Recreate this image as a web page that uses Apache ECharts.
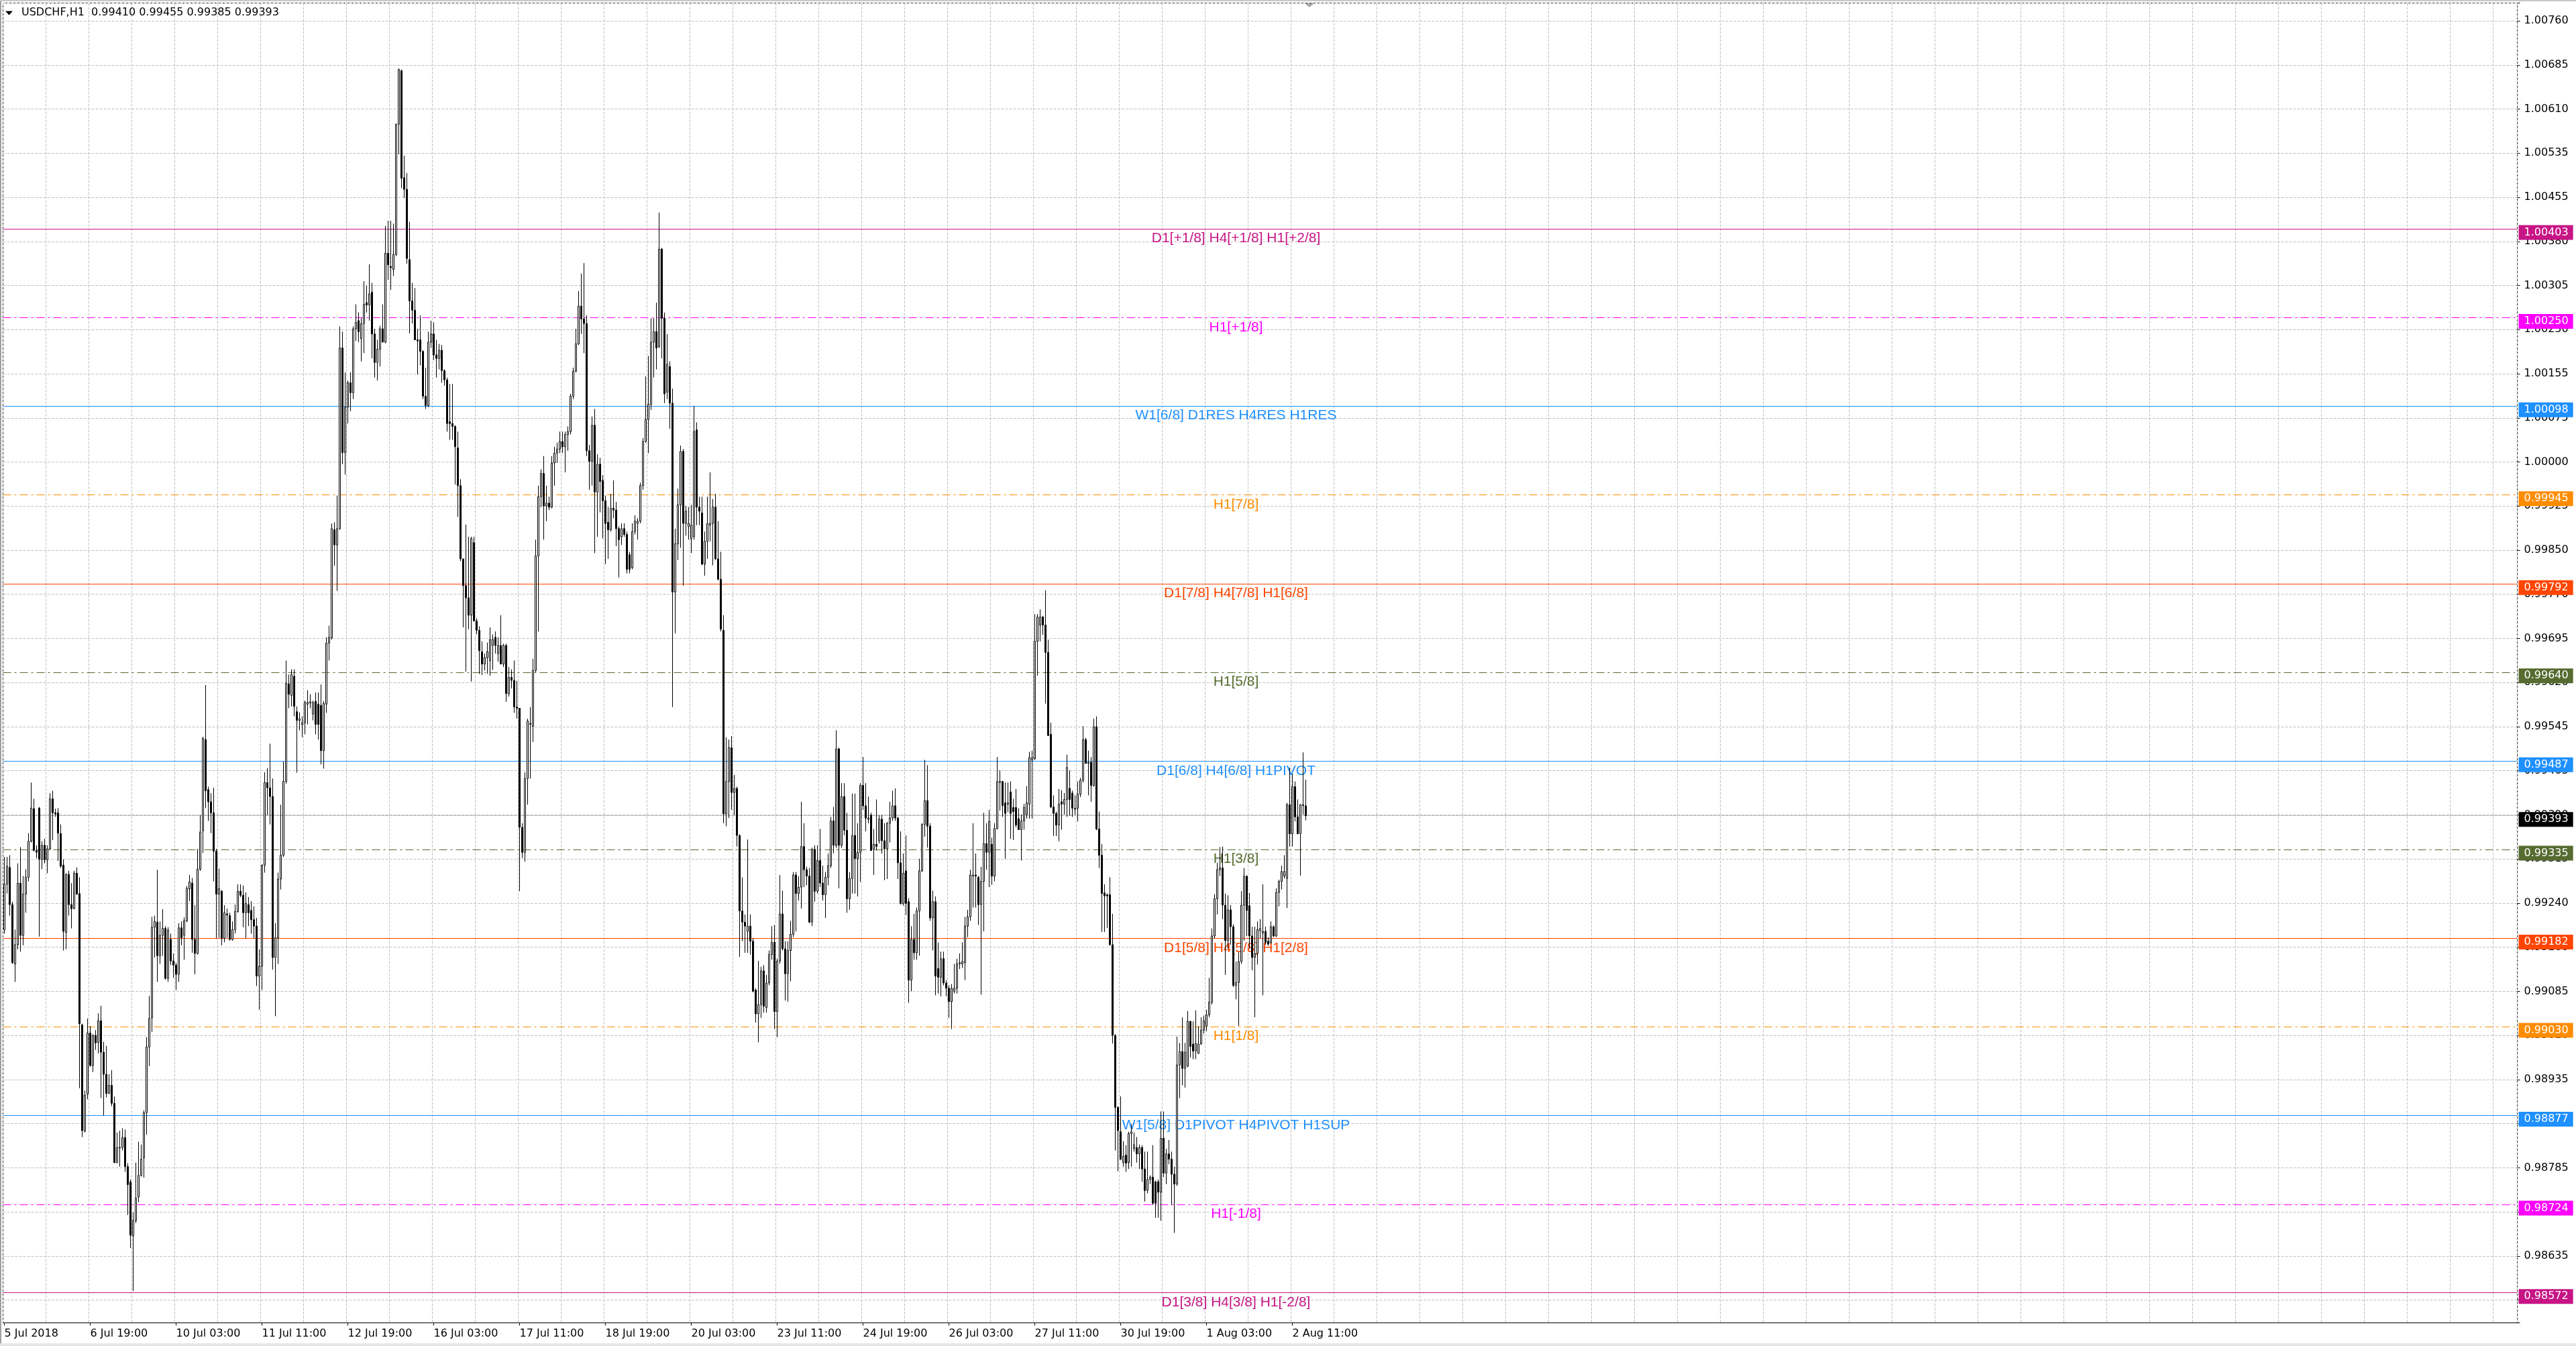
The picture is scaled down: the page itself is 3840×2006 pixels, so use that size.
<!DOCTYPE html>
<html><head><meta charset="utf-8">
<script src="https://cdn.jsdelivr.net/npm/echarts@6/dist/echarts.min.js"></script>
<style>html,body{margin:0;padding:0;background:#fff}#c{width:3840px;height:2006px}</style>
</head><body><div id="c"></div><script>
// ---- DATA (USDCHF H1, bars as [open, high, low, close]) ----
const week1 = [
[0.99197,0.99322,0.99190,0.99275],[0.99275,0.99322,0.99259,0.99306],[0.99304,0.99325,0.99221,0.99240],[0.99240,0.99245,0.99138,0.99140],
[0.99138,0.99197,0.99107,0.99171],[0.99171,0.99311,0.99163,0.99277],[0.99277,0.99339,0.99159,0.99187],[0.99187,0.99289,0.99170,0.99258],
[0.99258,0.99301,0.99226,0.99287],[0.99287,0.99363,0.99280,0.99349],[0.99349,0.99450,0.99347,0.99406],[0.99405,0.99422,0.99332,0.99333],
[0.99333,0.99342,0.99320,0.99330],[0.99406,0.99408,0.99185,0.99318],[0.99318,0.99349,0.99301,0.99342],[0.99342,0.99353,0.99311,0.99317],
[0.99317,0.99342,0.99294,0.99336],[0.99336,0.99432,0.99334,0.99422],[0.99422,0.99436,0.99351,0.99398],[0.99398,0.99405,0.99391,0.99396],
[0.99398,0.99406,0.99315,0.99363],[0.99362,0.99378,0.99303,0.99306],[0.99308,0.99318,0.99161,0.99194],[0.99192,0.99294,0.99163,0.99292],
[0.99292,0.99298,0.99221,0.99240],[0.99240,0.99277,0.99199,0.99233],[0.99233,0.99298,0.99232,0.99294],[0.99294,0.99304,0.99257,0.99258],
[0.99259,0.99287,0.98924,0.99035],[0.99033,0.99035,0.98840,0.98851],[0.98850,0.98920,0.98848,0.98912],[0.98914,0.99044,0.98905,0.99019],
[0.99019,0.99031,0.98961,0.98963],[0.98963,0.99017,0.98952,0.99015],[0.99015,0.99024,0.98990,0.99002],[0.99003,0.99053,0.98984,0.99040],
[0.99040,0.99066,0.98907,0.98986]
];
const week2 = [
[0.98986,0.99004,0.98877,0.98948],[0.98948,0.98997,0.98908,0.98915],[0.98915,0.98948,0.98914,0.98929],[0.98929,0.98955,0.98893,0.98898],
[0.98898,0.98910,0.98795,0.98796],[0.98796,0.98848,0.98795,0.98822],[0.98822,0.98851,0.98789,0.98821],[0.98822,0.98855,0.98817,0.98839],
[0.98839,0.98853,0.98780,0.98789],[0.98789,0.98795,0.98706,0.98758],[0.98763,0.98767,0.98649,0.98671],[0.98670,0.98710,0.98575,0.98696],
[0.98696,0.98796,0.98692,0.98735],[0.98737,0.98832,0.98728,0.98774],[0.98774,0.98827,0.98772,0.98802],[0.98804,0.98886,0.98770,0.98882],
[0.98882,0.99012,0.98844,0.98995],[0.98995,0.99083,0.98962,0.99044],[0.99045,0.99219,0.99021,0.99201],[0.99201,0.99221,0.99149,0.99211],
[0.99210,0.99300,0.99107,0.99152],[0.99152,0.99211,0.99138,0.99187],[0.99187,0.99232,0.99152,0.99199],[0.99199,0.99203,0.99111,0.99113],
[0.99113,0.99201,0.99107,0.99196],[0.99180,0.99190,0.99136,0.99143],[0.99143,0.99156,0.99114,0.99136],[0.99136,0.99140,0.99093,0.99120],
[0.99120,0.99208,0.99107,0.99200],[0.99200,0.99211,0.99170,0.99183],[0.99187,0.99218,0.99145,0.99212],[0.99212,0.99272,0.99210,0.99268],
[0.99267,0.99291,0.99246,0.99279],[0.99277,0.99286,0.99157,0.99180],[0.99180,0.99239,0.99120,0.99156],[0.99156,0.99336,0.99154,0.99301],
[0.99301,0.99394,0.99298,0.99365],[0.99367,0.99529,0.99329,0.99526],[0.99524,0.99618,0.99406,0.99436],[0.99438,0.99443,0.99384,0.99417],
[0.99417,0.99432,0.99363,0.99398],[0.99398,0.99441,0.99280,0.99332],[0.99332,0.99336,0.99182,0.99258],[0.99258,0.99302,0.99183,0.99268],
[0.99263,0.99265,0.99170,0.99182],[0.99182,0.99239,0.99175,0.99226],[0.99224,0.99233,0.99183,0.99222],[0.99221,0.99226,0.99178,0.99180],
[0.99180,0.99211,0.99178,0.99197],[0.99197,0.99240,0.99190,0.99228],[0.99228,0.99275,0.99226,0.99263],[0.99263,0.99275,0.99253,0.99256],
[0.99256,0.99273,0.99201,0.99226],[0.99226,0.99261,0.99182,0.99242],[0.99240,0.99253,0.99203,0.99226],[0.99230,0.99246,0.99190,0.99214],
[0.99214,0.99237,0.99182,0.99203],[0.99203,0.99217,0.99100,0.99117],[0.99117,0.99163,0.99059,0.99134],[0.99134,0.99309,0.99093,0.99308],
[0.99308,0.99468,0.99295,0.99450],[0.99450,0.99475,0.99394,0.99441],[0.99441,0.99517,0.99378,0.99426],[0.99426,0.99457,0.99128,0.99149],
[0.99149,0.99208,0.99048,0.99183],[0.99183,0.99295,0.99138,0.99284],[0.99284,0.99412,0.99266,0.99325],[0.99325,0.99486,0.99322,0.99452],
[0.99452,0.99660,0.99448,0.99621],[0.99620,0.99636,0.99578,0.99602],[0.99600,0.99645,0.99581,0.99636],[0.99633,0.99645,0.99564,0.99581],
[0.99572,0.99581,0.99467,0.99557],[0.99557,0.99571,0.99540,0.99560],[0.99550,0.99564,0.99528,0.99553],[0.99553,0.99591,0.99533,0.99588],
[0.99585,0.99609,0.99550,0.99588],[0.99587,0.99602,0.99578,0.99589],[0.99568,0.99591,0.99557,0.99588],[0.99590,0.99605,0.99533,0.99550],
[0.99585,0.99605,0.99524,0.99550],[0.99583,0.99619,0.99481,0.99505],[0.99505,0.99590,0.99474,0.99586],[0.99585,0.99700,0.99570,0.99690],
[0.99690,0.99720,0.99660,0.99700],[0.99699,0.99896,0.99696,0.99887],[0.99885,0.99898,0.99823,0.99859],[0.99859,0.99944,0.99780,0.99887],
[0.99887,1.00235,0.99885,1.00198],[1.00198,1.00226,0.99998,1.00018],[1.00018,1.00156,0.99980,1.00096],[1.00096,1.00142,1.00068,1.00138],
[1.00138,1.00156,1.00089,1.00121],[1.00121,1.00235,1.00110,1.00231],[1.00231,1.00273,1.00210,1.00242],[1.00245,1.00259,1.00208,1.00226],
[1.00214,1.00249,1.00175,1.00240],[1.00240,1.00313,1.00189,1.00273],[1.00276,1.00305,1.00259,1.00272],[1.00272,1.00342,1.00245,1.00291],
[1.00294,1.00310,1.00180,1.00222],[1.00222,1.00231,1.00147,1.00173],[1.00173,1.00212,1.00142,1.00196],[1.00196,1.00236,1.00166,1.00231],
[1.00231,1.00273,1.00208,1.00208],[1.00208,1.00408,1.00206,1.00361],[1.00361,1.00417,1.00315,1.00341],[1.00338,1.00417,1.00298,1.00336],
[1.00333,1.00412,1.00322,1.00359],[1.00359,1.00584,1.00356,1.00583],[1.00583,1.00679,1.00531,1.00677],[1.00675,1.00677,1.00473,1.00490],
[1.00491,1.00529,1.00456,1.00471],[1.00471,1.00499,1.00343,1.00352],[1.00350,1.00415,1.00223,1.00279],[1.00279,1.00310,1.00240,1.00263],
[1.00263,1.00301,1.00212,1.00212],[1.00212,1.00231,1.00152,1.00210],[1.00212,1.00254,1.00168,1.00192],[1.00192,1.00194,1.00110,1.00115]
];
const week3 = [
[1.00115,1.00164,1.00093,1.00099],[1.00099,1.00226,1.00096,1.00208],[1.00208,1.00245,1.00198,1.00222],[1.00222,1.00242,1.00177,1.00186],
[1.00186,1.00212,1.00147,1.00180],[1.00180,1.00205,1.00161,1.00194],[1.00194,1.00203,1.00138,1.00159],[1.00159,1.00161,1.00133,1.00143],
[1.00143,1.00147,1.00054,1.00068],[1.00071,1.00136,1.00040,1.00068],[1.00068,1.00136,1.00040,1.00063],[1.00063,1.00065,0.99963,1.00028],
[1.00026,1.00054,0.99907,0.99961],[0.99961,0.99972,0.99831,0.99835],[0.99835,0.99835,0.99717,0.99789],[0.99789,0.99894,0.99641,0.99768],
[0.99768,0.99873,0.99714,0.99738],[0.99738,0.99873,0.99624,0.99870],[0.99863,0.99873,0.99728,0.99728],[0.99728,0.99733,0.99705,0.99712],
[0.99712,0.99719,0.99637,0.99677],[0.99675,0.99693,0.99635,0.99654],[0.99654,0.99672,0.99643,0.99665],[0.99665,0.99691,0.99637,0.99675],
[0.99660,0.99717,0.99634,0.99696],[0.99686,0.99705,0.99644,0.99696],[0.99700,0.99710,0.99672,0.99686],[0.99672,0.99700,0.99658,0.99686],
[0.99686,0.99738,0.99654,0.99654],[0.99654,0.99689,0.99649,0.99686],[0.99686,0.99689,0.99589,0.99603],[0.99603,0.99649,0.99598,0.99631],
[0.99631,0.99645,0.99612,0.99626],[0.99626,0.99660,0.99570,0.99580],[0.99580,0.99625,0.99560,0.99578],[0.99578,0.99578,0.99263,0.99373],
[0.99373,0.99380,0.99320,0.99330],[0.99330,0.99468,0.99314,0.99457],[0.99457,0.99560,0.99412,0.99556],[0.99550,0.99580,0.99457,0.99552],
[0.99547,0.99663,0.99520,0.99643],[0.99643,0.99868,0.99640,0.99840],[0.99840,0.99961,0.99710,0.99942],[0.99942,0.99989,0.99924,0.99982],
[0.99982,1.00012,0.99868,0.99926],[0.99926,0.99961,0.99900,0.99931],[0.99931,0.99942,0.99919,0.99924],[0.99924,1.00012,0.99922,1.00000],
[1.00000,1.00028,0.99961,1.00017],[1.00017,1.00035,1.00000,1.00024],[1.00024,1.00054,1.00017,1.00037],[1.00037,1.00054,1.00017,1.00028],
[1.00028,1.00054,0.99984,1.00049],[1.00049,1.00063,1.00021,1.00054],[1.00054,1.00119,1.00049,1.00115],[1.00115,1.00164,1.00110,1.00158],
[1.00158,1.00231,1.00156,1.00205],[1.00205,1.00296,1.00203,1.00270],[1.00270,1.00326,1.00222,1.00248],[1.00248,1.00344,1.00189,1.00240],
[1.00240,1.00254,1.00012,1.00021],[1.00021,1.00031,0.99954,1.00003],[1.00003,1.00080,0.99961,1.00065],[1.00065,1.00093,0.99845,0.99950],
[0.99950,1.00015,0.99873,0.99998],[0.99998,1.00009,0.99915,0.99968],[0.99970,0.99979,0.99870,0.99935],[0.99935,0.99944,0.99826,0.99896],
[0.99898,0.99924,0.99835,0.99885],[0.99885,0.99947,0.99882,0.99922],[0.99922,0.99970,0.99905,0.99919],[0.99919,0.99933,0.99857,0.99887],
[0.99887,0.99891,0.99803,0.99868],[0.99873,0.99896,0.99859,0.99887],[0.99887,0.99896,0.99873,0.99877],[0.99877,0.99882,0.99810,0.99817],
[0.99842,0.99847,0.99810,0.99817],[0.99820,0.99896,0.99817,0.99882],[0.99882,0.99910,0.99877,0.99900],[0.99896,0.99905,0.99868,0.99900],
[0.99900,0.99966,0.99896,0.99961],[0.99961,1.00043,0.99954,1.00037],[1.00037,1.00149,1.00035,1.00075],[1.00075,1.00184,1.00017,1.00101],
[1.00101,1.00249,1.00091,1.00208],[1.00208,1.00249,1.00147,1.00226],[1.00226,1.00276,1.00161,1.00198],[1.00200,1.00431,1.00198,1.00368],
[1.00368,1.00370,1.00180,1.00249],[1.00249,1.00259,1.00103,1.00119],[1.00122,1.00222,1.00110,1.00170],[1.00166,1.00175,1.00059,1.00103],
[1.00103,1.00128,0.99580,0.99778],[0.99778,0.99887,0.99707,0.99861],[0.99861,0.99956,0.99833,0.99928],[0.99928,1.00030,0.99854,1.00020],
[1.00020,1.00024,0.99789,0.99896],[0.99896,0.99926,0.99875,0.99917],[0.99891,0.99924,0.99868,0.99896],[0.99870,0.99928,0.99845,0.99893],
[0.99873,1.00098,0.99868,1.00054],[1.00057,1.00070,0.99893,0.99924],[0.99924,0.99942,0.99893,0.99917],[0.99914,0.99942,0.99824,0.99826],
[0.99826,0.99882,0.99806,0.99865],[0.99865,0.99942,0.99835,0.99896],[0.99893,0.99984,0.99865,0.99896],[0.99896,0.99938,0.99824,0.99924],
[0.99924,0.99947,0.99833,0.99835],[0.99835,0.99900,0.99798,0.99800],[0.99800,0.99847,0.99710,0.99714],[0.99712,0.99738,0.99380,0.99396],
[0.99396,0.99528,0.99375,0.99452],[0.99452,0.99524,0.99389,0.99510],[0.99510,0.99530,0.99403,0.99433],[0.99433,0.99463,0.99394,0.99440],
[0.99440,0.99443,0.99340,0.99359],[0.99359,0.99361,0.99150,0.99229],[0.99229,0.99287,0.99177,0.99210],[0.99210,0.99223,0.99157,0.99203]
];
const week4 = [
[0.99194,0.99352,0.99157,0.99203],[0.99203,0.99223,0.99154,0.99177],[0.99177,0.99182,0.99089,0.99091],[0.99093,0.99096,0.99037,0.99052],
[0.99052,0.99143,0.99003,0.99068],[0.99068,0.99133,0.99045,0.99126],[0.99126,0.99136,0.99054,0.99065],[0.99063,0.99119,0.99054,0.99105],
[0.99105,0.99161,0.99101,0.99154],[0.99154,0.99203,0.99145,0.99175],[0.99175,0.99205,0.99026,0.99056],[0.99056,0.99147,0.99012,0.99143],
[0.99143,0.99291,0.99138,0.99224],[0.99224,0.99264,0.99161,0.99164],[0.99164,0.99177,0.99075,0.99121],[0.99121,0.99177,0.99073,0.99161],
[0.99161,0.99212,0.99108,0.99189],[0.99189,0.99296,0.99184,0.99291],[0.99291,0.99296,0.99194,0.99259],[0.99259,0.99289,0.99247,0.99270],
[0.99270,0.99417,0.99233,0.99340],[0.99340,0.99380,0.99270,0.99300],[0.99300,0.99305,0.99273,0.99289],[0.99289,0.99303,0.99208,0.99210],
[0.99210,0.99338,0.99203,0.99335],[0.99335,0.99342,0.99245,0.99263],[0.99263,0.99342,0.99259,0.99316],[0.99316,0.99370,0.99270,0.99277],
[0.99277,0.99307,0.99247,0.99257],[0.99257,0.99296,0.99217,0.99287],[0.99287,0.99328,0.99273,0.99307],[0.99307,0.99391,0.99303,0.99384],
[0.99384,0.99408,0.99328,0.99342],[0.99342,0.99540,0.99338,0.99508],[0.99508,0.99510,0.99268,0.99342],[0.99342,0.99449,0.99338,0.99426],
[0.99426,0.99449,0.99359,0.99368],[0.99368,0.99398,0.99226,0.99250],[0.99250,0.99296,0.99231,0.99285],[0.99285,0.99431,0.99259,0.99359],
[0.99359,0.99431,0.99259,0.99319],[0.99319,0.99380,0.99254,0.99330],[0.99330,0.99449,0.99279,0.99445],[0.99445,0.99494,0.99403,0.99410],
[0.99410,0.99449,0.99366,0.99389],[0.99387,0.99426,0.99380,0.99389],[0.99394,0.99398,0.99333,0.99333],[0.99335,0.99370,0.99291,0.99344],
[0.99344,0.99421,0.99333,0.99340],[0.99350,0.99394,0.99345,0.99387],[0.99387,0.99394,0.99328,0.99350],[0.99350,0.99380,0.99282,0.99336],
[0.99336,0.99382,0.99284,0.99380],[0.99380,0.99417,0.99347,0.99389],[0.99389,0.99436,0.99384,0.99410],[0.99410,0.99440,0.99384,0.99389],
[0.99389,0.99391,0.99284,0.99312],[0.99312,0.99366,0.99240,0.99242],[0.99242,0.99328,0.99238,0.99294],[0.99298,0.99359,0.99222,0.99242],
[0.99245,0.99251,0.99071,0.99110],[0.99110,0.99203,0.99091,0.99180],[0.99180,0.99224,0.99145,0.99157],[0.99157,0.99235,0.99145,0.99229],
[0.99229,0.99319,0.99152,0.99298],[0.99298,0.99380,0.99296,0.99378],[0.99378,0.99489,0.99357,0.99419],[0.99419,0.99480,0.99338,0.99375],
[0.99375,0.99380,0.99212,0.99217],[0.99217,0.99264,0.99161,0.99245],[0.99245,0.99254,0.99084,0.99117],[0.99130,0.99175,0.99087,0.99115],
[0.99115,0.99159,0.99082,0.99147],[0.99147,0.99159,0.99101,0.99105],[0.99105,0.99110,0.99082,0.99096],[0.99096,0.99101,0.99045,0.99073],
[0.99073,0.99103,0.99026,0.99096],[0.99091,0.99138,0.99087,0.99096],[0.99096,0.99147,0.99087,0.99138],[0.99138,0.99156,0.99129,0.99140],
[0.99138,0.99175,0.99131,0.99142],[0.99140,0.99219,0.99110,0.99203],[0.99203,0.99231,0.99184,0.99219],[0.99219,0.99300,0.99212,0.99291],
[0.99289,0.99380,0.99235,0.99291],[0.99291,0.99328,0.99235,0.99289],[0.99287,0.99289,0.99205,0.99240],[0.99240,0.99305,0.99085,0.99280],
[0.99280,0.99398,0.99194,0.99345],[0.99345,0.99380,0.99300,0.99330],[0.99330,0.99403,0.99270,0.99383],[0.99344,0.99355,0.99274,0.99289],
[0.99289,0.99380,0.99280,0.99371],[0.99371,0.99494,0.99369,0.99452],[0.99450,0.99471,0.99402,0.99452],[0.99452,0.99452,0.99391,0.99410],
[0.99415,0.99450,0.99319,0.99397],[0.99413,0.99450,0.99399,0.99415],[0.99434,0.99452,0.99353,0.99397],[0.99407,0.99422,0.99351,0.99400],
[0.99407,0.99439,0.99373,0.99377],[0.99388,0.99406,0.99369,0.99369],[0.99369,0.99395,0.99316,0.99384],[0.99384,0.99413,0.99369,0.99407],
[0.99395,0.99444,0.99388,0.99415],[0.99413,0.99503,0.99388,0.99493],[0.99489,0.99505,0.99388,0.99493],[0.99491,0.99740,0.99489,0.99693],
[0.99693,0.99740,0.99634,0.99735],[0.99721,0.99748,0.99693,0.99735],[0.99735,0.99737,0.99704,0.99721],[0.99721,0.99781,0.99586,0.99674],
[0.99674,0.99696,0.99530,0.99531],[0.99533,0.99553,0.99406,0.99408],[0.99408,0.99428,0.99358,0.99397],[0.99397,0.99400,0.99358,0.99377],
[0.99377,0.99439,0.99349,0.99413],[0.99417,0.99437,0.99369,0.99413],[0.99413,0.99432,0.99395,0.99421],[0.99421,0.99498,0.99391,0.99476]
];
const week5 = [
[0.99440,0.99471,0.99393,0.99421],[0.99432,0.99436,0.99391,0.99406],[0.99404,0.99428,0.99395,0.99406],[0.99406,0.99452,0.99383,0.99430],
[0.99430,0.99458,0.99425,0.99454],[0.99454,0.99547,0.99450,0.99524],[0.99524,0.99527,0.99483,0.99483],[0.99483,0.99505,0.99428,0.99485],
[0.99485,0.99494,0.99417,0.99445],[0.99445,0.99560,0.99443,0.99546],[0.99546,0.99564,0.99368,0.99370],[0.99370,0.99400,0.99303,0.99325],
[0.99325,0.99344,0.99193,0.99259],[0.99260,0.99275,0.99193,0.99255],[0.99257,0.99259,0.99200,0.99255],[0.99257,0.99287,0.99169,0.99171],
[0.99171,0.99224,0.99001,0.99015],[0.99015,0.99017,0.98817,0.98891],[0.98891,0.98893,0.98781,0.98851],[0.98849,0.98910,0.98800,0.98802],
[0.98796,0.98833,0.98789,0.98807],[0.98809,0.98826,0.98780,0.98795],[0.98796,0.98849,0.98785,0.98846],[0.98846,0.98862,0.98789,0.98849],
[0.98820,0.98848,0.98815,0.98827],[0.98822,0.98840,0.98796,0.98811],[0.98811,0.98827,0.98785,0.98822],[0.98822,0.98826,0.98763,0.98785],
[0.98785,0.98815,0.98729,0.98748],[0.98748,0.98815,0.98743,0.98767],[0.98767,0.98774,0.98759,0.98771],[0.98771,0.98826,0.98723,0.98726],
[0.98763,0.98765,0.98701,0.98726],[0.98763,0.98767,0.98701,0.98745],[0.98745,0.98884,0.98696,0.98838],[0.98838,0.98884,0.98771,0.98778],
[0.98778,0.98820,0.98759,0.98811],[0.98811,0.98835,0.98793,0.98802],[0.98802,0.98815,0.98723,0.98776],[0.98776,0.98789,0.98675,0.98759],
[0.98759,0.99013,0.98756,0.98964],[0.98964,0.99002,0.98907,0.98987],[0.98987,0.99046,0.98929,0.98958],[0.98958,0.99002,0.98925,0.98986],
[0.98962,0.99057,0.98960,0.99039],[0.99039,0.99040,0.98977,0.98996],[0.99000,0.99039,0.98974,0.98988],[0.98988,0.99058,0.98974,0.99001],
[0.98984,0.99031,0.98983,0.99000],[0.99000,0.99046,0.98999,0.99024],[0.99024,0.99049,0.99018,0.99040],[0.99031,0.99059,0.99022,0.99050],
[0.99050,0.99114,0.99046,0.99072],[0.99072,0.99199,0.99068,0.99186],[0.99186,0.99258,0.99182,0.99250],[0.99250,0.99312,0.99223,0.99300],
[0.99300,0.99339,0.99289,0.99303],[0.99303,0.99340,0.99215,0.99239],[0.99239,0.99259,0.99119,0.99178],[0.99178,0.99256,0.99164,0.99231],
[0.99231,0.99239,0.99171,0.99202],[0.99202,0.99206,0.99098,0.99101],[0.99101,0.99142,0.99077,0.99106],[0.99106,0.99158,0.99031,0.99142],
[0.99142,0.99263,0.99138,0.99239],[0.99239,0.99303,0.99178,0.99289],[0.99289,0.99290,0.99186,0.99230],[0.99238,0.99260,0.99164,0.99186],
[0.99186,0.99202,0.99127,0.99149],[0.99149,0.99202,0.99046,0.99156],[0.99156,0.99211,0.99137,0.99197],[0.99195,0.99215,0.99182,0.99199],
[0.99191,0.99275,0.99084,0.99194],[0.99194,0.99202,0.99171,0.99175],[0.99177,0.99184,0.99169,0.99172],[0.99175,0.99211,0.99172,0.99202],
[0.99202,0.99204,0.99184,0.99186],[0.99186,0.99268,0.99184,0.99261],[0.99261,0.99283,0.99237,0.99280],[0.99280,0.99307,0.99266,0.99297],
[0.99289,0.99325,0.99285,0.99297],[0.99285,0.99415,0.99234,0.99412],[0.99412,0.99476,0.99340,0.99362],[0.99362,0.99465,0.99340,0.99443],
[0.99443,0.99452,0.99383,0.99391],[0.99391,0.99421,0.99361,0.99362],[0.99362,0.99413,0.99290,0.99412],[0.99410,0.99502,0.99395,0.99412],
[0.99410,0.99455,0.99385,0.99393]
];

const xLabels = ['5 Jul 2018','6 Jul 19:00','10 Jul 03:00','11 Jul 11:00','12 Jul 19:00','16 Jul 03:00','17 Jul 11:00','18 Jul 19:00',
  '20 Jul 03:00','23 Jul 11:00','24 Jul 19:00','26 Jul 03:00','27 Jul 11:00','30 Jul 19:00','1 Aug 03:00','2 Aug 11:00'];
const xLabelStep = 32;   // bars between time labels
const xGridStep = 16;    // bars between vertical grid lines
const slotCount = 937;   // hourly slots that fit across the chart window

const yTickLabels = ['1.00760','1.00685','1.00610','1.00535','1.00455','1.00380','1.00305','1.00230','1.00155','1.00075',
  '1.00000','0.99925','0.99850','0.99770','0.99695','0.99620','0.99545','0.99465','0.99390','0.99315',
  '0.99240','0.99160','0.99085','0.99010','0.98935','0.98860','0.98785','0.98710','0.98635',''];

const levelPrices = [1.00403,1.00250,1.00098,0.99945,0.99792,0.99640,0.99487,0.99335,0.99182,0.99030,0.98877,0.98724,0.98572];
const levelNames = ['D1[+1/8] H4[+1/8] H1[+2/8]','H1[+1/8]','W1[6/8] D1RES H4RES H1RES','H1[7/8]','D1[7/8] H4[7/8] H1[6/8]',
  'H1[5/8]','D1[6/8] H4[6/8] H1PIVOT','H1[3/8]','D1[5/8] H4[5/8] H1[2/8]','H1[1/8]','W1[5/8] D1PIVOT H4PIVOT H1SUP','H1[-1/8]',
  'D1[3/8] H4[3/8] H1[-2/8]'];
const levelColors = ['#C71585','#FF00FF','#1E90FF','#FF8C00','#FF4500','#556B2F','#1E90FF','#556B2F','#FF4500','#FF8C00','#1E90FF','#FF00FF','#C71585'];
const levelDashDot = [false,true,false,true,false,true,false,true,false,true,false,true,false];
const bidPrice = 0.99393;
const headerText = 'USDCHF,H1  0.99410 0.99455 0.99385 0.99393';

// ---- CHART ----
const bars = week1.concat(week2, week3, week4, week5);
const candleData = bars.map(b => [b[0], b[3], b[2], b[1]]);
const slots = Array.from({length: slotCount}, (_, i) => String(i));
const midLabelSlot = 918; // helper segment end so that level names centre where MT4 puts them

const axisFont = 'DejaVu Sans';
// price box on the right axis: an empty spacer line above the box drops it slightly below the level, as MT4 does
const boxLabel = (text, bg) => ({
  show: true, position: 'end', distance: 2, opacity: 1,
  formatter: '{g| }\n{b|' + text + '}',
  rich: {
    g: {fontSize: 1, lineHeight: 11},
    b: {color: '#fff', backgroundColor: bg, padding: [3, 7, 3, 8], fontFamily: axisFont, fontSize: 16, lineHeight: 16}
  }
});
const markData = [];
levelPrices.forEach((p, i) => {
  markData.push({
    yAxis: p,
    lineStyle: {color: levelColors[i], width: 1, type: levelDashDot[i] ? [12, 5, 3, 5] : 'solid', opacity: 1},
    label: boxLabel(p.toFixed(5), levelColors[i])
  });
  markData.push([
    {coord: ['0', p], lineStyle: {color: 'rgba(0,0,0,0)', width: 1, opacity: 1, type: 'solid'},
     label: {show: true, position: 'insideMiddleBottom', distance: 4, formatter: levelNames[i], color: levelColors[i],
       fontFamily: 'Liberation Sans', fontSize: 21, opacity: 1, padding: 0, backgroundColor: 'transparent'}},
    {coord: [String(midLabelSlot), p]}
  ]);
});
markData.push({
  yAxis: bidPrice,
  lineStyle: {color: '#c0c0c0', width: 1, type: 'solid'},
  label: boxLabel(bidPrice.toFixed(5), '#000')
});

const chart = echarts.init(document.getElementById('c'), null, {renderer: 'canvas'});
const labelShown = (i) => i % xLabelStep === 0 && i / xLabelStep < xLabels.length;
chart.setOption({
  animation: false,
  backgroundColor: '#fff',
  title: {text: headerText, left: 32, top: 11, padding: 0,
    textStyle: {fontFamily: axisFont, fontSize: 16, fontWeight: 'normal', color: '#000'}},
  graphic: [
    {type: 'polygon', shape: {points: [[8, 16.5], [19, 16.5], [13.5, 22.5]]}, style: {fill: '#000'}, z: 10},
    {type: 'polygon', shape: {points: [[1945, 5], [1959, 5], [1952, 11]]}, style: {fill: '#a8a8a8'}, z: 10},
    {type: 'rect', shape: {x: 0, y: 0, width: 2, height: 2006}, style: {fill: '#a0a0a0'}, z: 10},
    {type: 'rect', shape: {x: 0, y: 0, width: 3840, height: 2}, style: {fill: '#c8c8c8'}, z: 10},
    {type: 'rect', shape: {x: 0, y: 2002, width: 3840, height: 4}, style: {fill: '#e6e6e6'}, z: 10}
  ],
  grid: {left: 4.5, top: 4.5, width: 3748, height: 1967, show: true, borderColor: '#000', borderWidth: 1, backgroundColor: '#fff'},
  xAxis: {
    type: 'category', data: slots, boundaryGap: true,
    axisLine: {show: true, onZero: false, lineStyle: {color: '#000', width: 1}},
    axisTick: {show: true, alignWithLabel: true, interval: labelShown, length: 4, lineStyle: {color: '#000'}},
    axisLabel: {interval: labelShown, formatter: (v, i) => labelShown(i) ? xLabels[i / xLabelStep] : '',
      align: 'left', margin: 8, fontFamily: axisFont, fontSize: 16, color: '#000'},
    splitLine: {show: true, interval: (i) => i % xGridStep === 0, lineStyle: {color: '#c0c0c0', type: [4, 2], width: 1}}
  },
  yAxis: [
    {type: 'value', min: 0.985202, max: 1.007916, show: false, scale: true},
    {type: 'value', inverse: true, min: -0.4046, max: 29.516, splitNumber: 30, position: 'right',
      axisLine: {show: false, onZero: false},
      axisTick: {show: true, length: 4, lineStyle: {color: '#000'}},
      axisLabel: {margin: 10, fontFamily: axisFont, fontSize: 16, color: '#000',
        formatter: (v) => Number.isInteger(v) && v >= 0 && v < yTickLabels.length ? yTickLabels[v] : ''},
      splitLine: {show: true, lineStyle: {color: '#c0c0c0', type: [4, 2], width: 1}}}
  ],
  series: [
    {type: 'line', data: [], xAxisIndex: 0, yAxisIndex: 0, z: 1, silent: true, clip: false,
      markLine: {z: 1, silent: true, precision: 5, symbol: ['none', 'none'], animation: false,
        label: {fontFamily: axisFont, fontSize: 16}, data: markData}},
    {type: 'candlestick', data: candleData, xAxisIndex: 0, yAxisIndex: 0, z: 3, barWidth: 2,
      itemStyle: {color: '#fff', color0: '#000', borderColor: '#000', borderColor0: '#000', borderWidth: 1}}
  ]
});
</script></body></html>
